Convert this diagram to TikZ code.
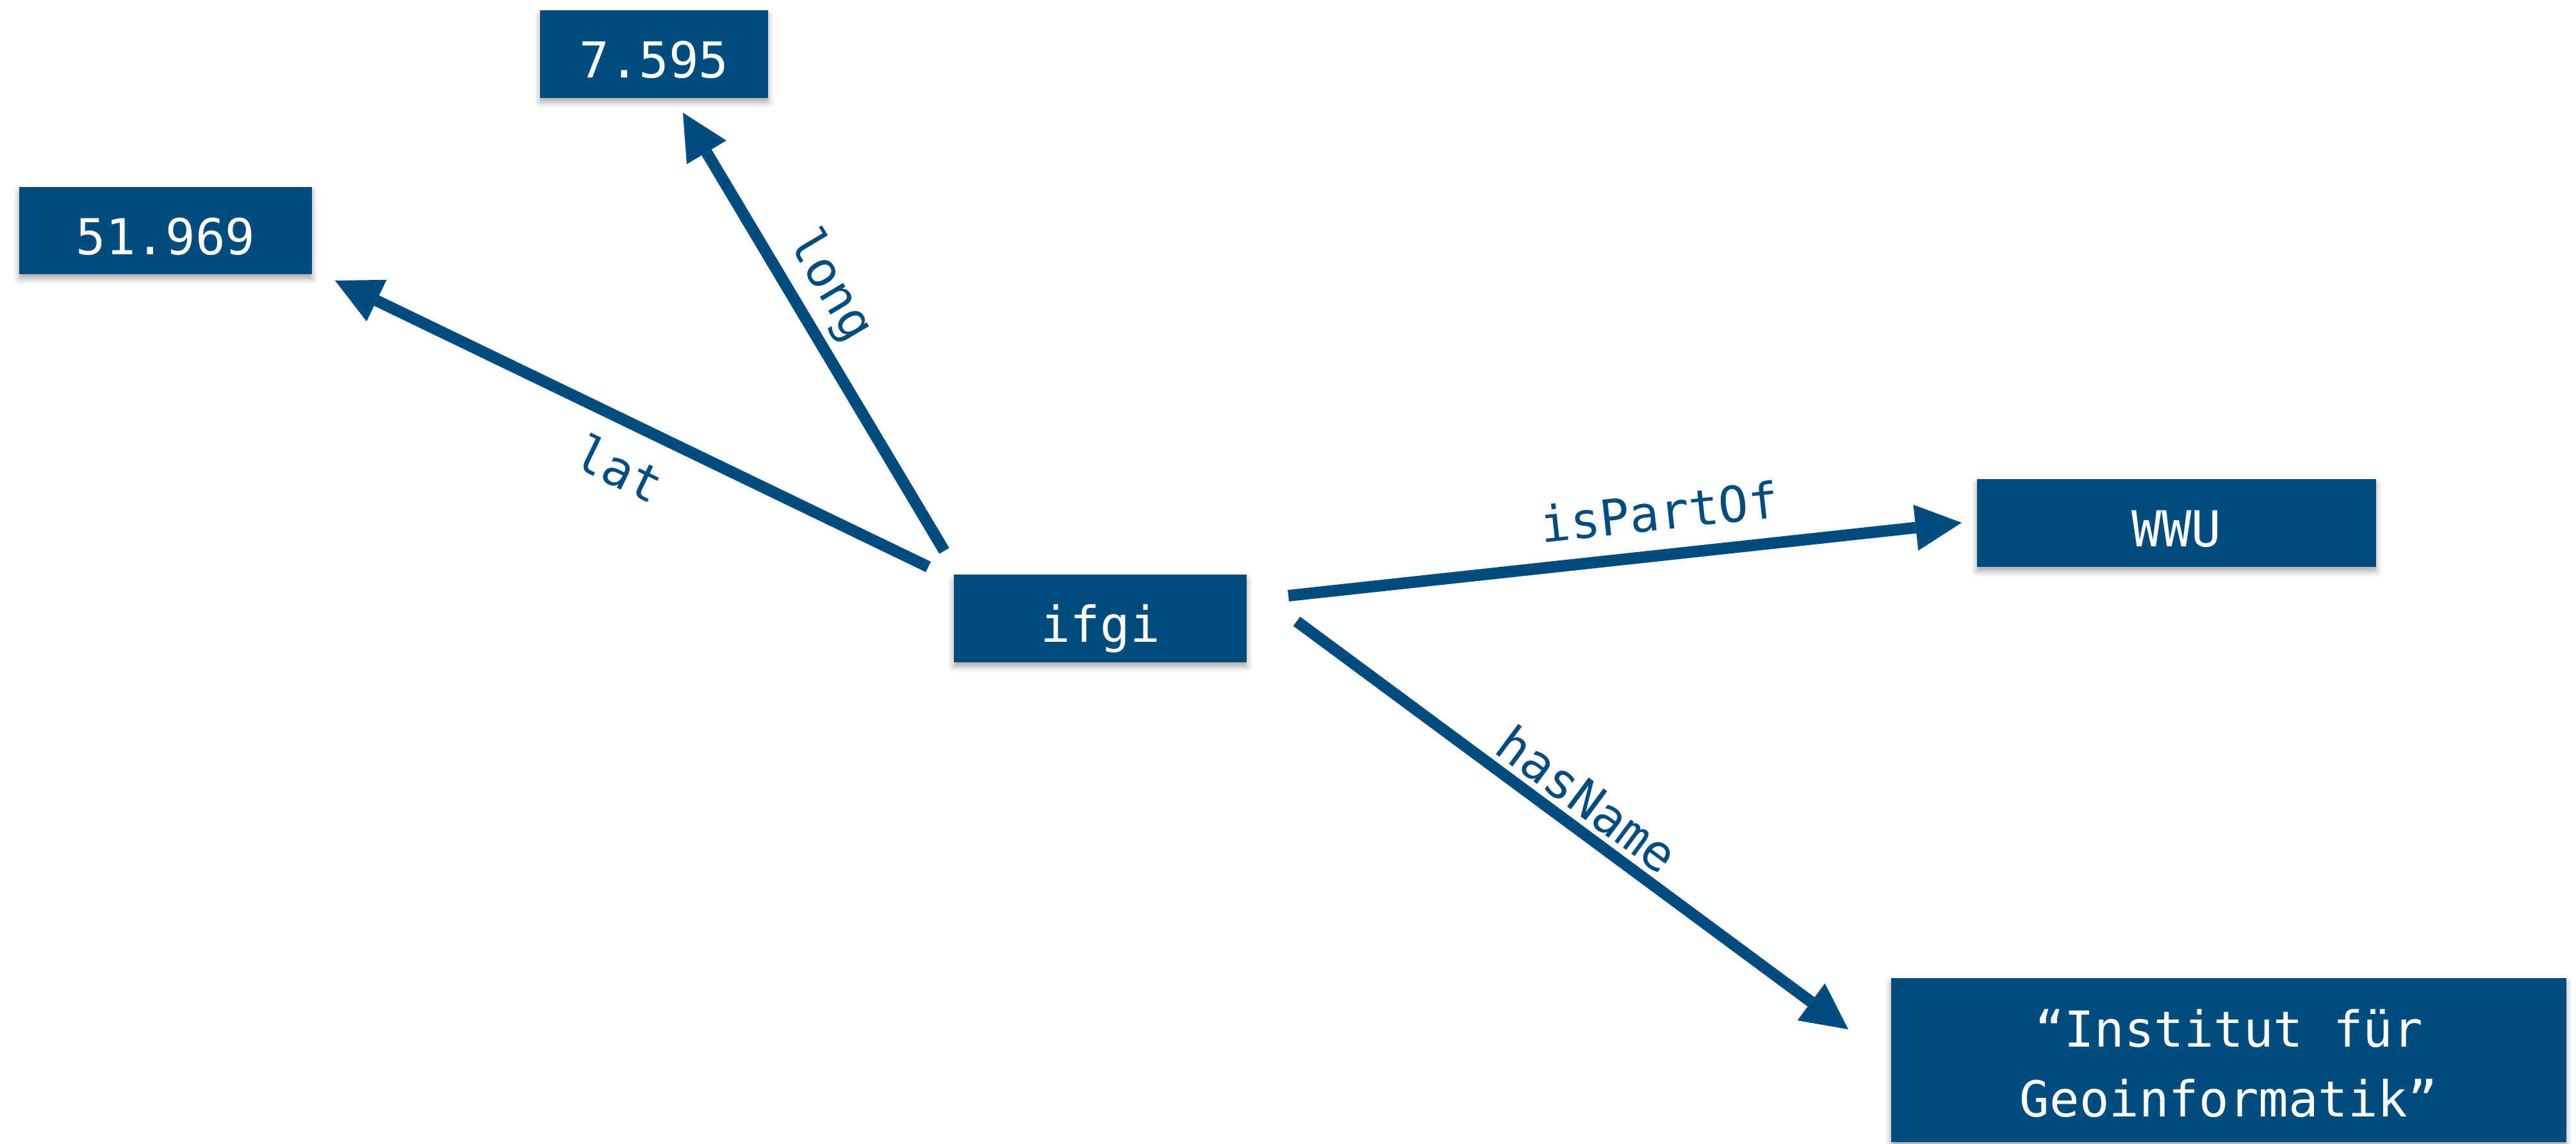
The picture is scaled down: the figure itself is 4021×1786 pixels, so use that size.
\documentclass[tikz,border=0pt]{standalone}
\usepackage{fontspec}
\newfontfamily\plexmono{DejaVu Sans Mono}
\usetikzlibrary{arrows.meta,shadows.blur}
\definecolor{wwublue}{HTML}{004C7E}
\tikzset{
  box/.style={fill=wwublue, text=white, inner sep=0pt, minimum height=1.36cm,
    font=\plexmono\fontsize{22pt}{31pt}\selectfont,
    blur shadow={shadow xshift=0pt, shadow yshift=-0.07cm, shadow blur radius=0.09cm, shadow opacity=35}},
  oneline/.style={text height=0.895cm, text depth=0.155cm},
  lbl/.style={text=wwublue, inner sep=0pt, font=\plexmono\fontsize{22pt}{31pt}\selectfont},
  rel/.style={draw=wwublue, line width=0.18cm, -{Triangle[length=0.72cm,width=0.72cm,line width=0pt]}},
}
\begin{document}
\begin{tikzpicture}[x=0.01cm, y=-0.01cm]
\useasboundingbox (0,0) rectangle (4021,1786);
% boxes
\node[box, oneline, minimum width=3.56cm] (long) at (1021,84.5) {7.595};
\node[box, oneline, minimum width=4.57cm] (lat) at (258.5,360) {51.969};
\node[box, oneline, minimum width=4.57cm] (ifgi) at (1717.5,965.5) {ifgi};
\node[box, oneline, minimum width=6.23cm] (wwu) at (3397.5,816.5) {WWU};
\node[box, minimum width=10.54cm, minimum height=2.56cm, align=center] (name) at (3479,1655)
  {\rule{0pt}{0.69cm}“Institut für\\Geoinformatik”};
% connectors
\draw[rel] ([shift={(-268.5,-80.5)}]ifgi.center) -- ([shift={(264.5,78)}]lat.center);
\draw[rel] ([shift={(-243.5,-105.5)}]ifgi.center) -- ([shift={(45,91.5)}]long.center);
\draw[rel] ([shift={(293.5,-35.5)}]ifgi.center) -- ([shift={(-335.5,-0.5)}]wwu.center);
\draw[rel] ([shift={(306.5,4.5)}]ifgi.center) -- ([shift={(-594,-48)}]name.center);
% labels
\node[lbl, rotate=-25.8] (latlbl) at (967,731) {lat};
\node[lbl, rotate=-59.2] (longlbl) at (1295,447) {long};
\node[lbl, rotate=6.2] (partlbl) at (2590,798.5) {isPartOf};
\node[lbl, rotate=-36.5] (namelbl) at (2478,1247) {hasName};
\end{tikzpicture}
\end{document}
